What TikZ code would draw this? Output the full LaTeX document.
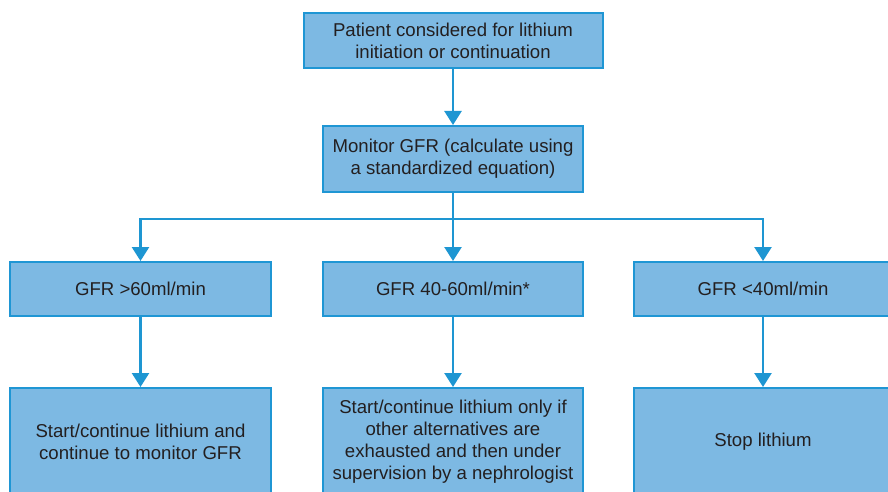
\documentclass[tikz,border=0pt]{standalone}
\usepackage{fontspec}
\setmainfont{Liberation Sans}
\usetikzlibrary{arrows.meta}
\definecolor{boxfill}{HTML}{7DB9E3}
\definecolor{boxline}{HTML}{1F96D4}
\definecolor{arrowcol}{HTML}{1E96D2}
\definecolor{txt}{HTML}{231F20}
\tikzset{
  flowbox/.style={draw=boxline, fill=boxfill, line width=2pt, inner sep=0pt,
    align=center, text=txt, font=\fontsize{18.6}{22}\selectfont},
  flowarrow/.style={draw=arrowcol, line width=2.5pt,
    -{Triangle[width=17pt,length=14pt]}}
}
\begin{document}
\begin{tikzpicture}[x=1pt,y=-1pt]
  \useasboundingbox (0,0) rectangle (888,492);
  \clip (0,0) rectangle (888,492);

  \node[flowbox, minimum width=299pt, minimum height=55pt] (start) at (453,40.5)
    {Patient considered for lithium\\initiation or continuation};
  \node[flowbox, minimum width=260pt, minimum height=66pt] (mon) at (453,159)
    {Monitor GFR (calculate using\\a standardized equation)};

  \node[flowbox, minimum width=261pt, minimum height=54pt] (g1) at (140.5,289)
    {GFR >60ml/min};
  \node[flowbox, minimum width=260pt, minimum height=54pt] (g2) at (453,289)
    {GFR 40-60ml/min*};
  \node[flowbox, minimum width=258pt, minimum height=54pt] (g3) at (763,289)
    {GFR <40ml/min};

  \node[flowbox, minimum width=261pt, minimum height=108pt] (a1) at (140.5,442)
    {Start/continue lithium and\\continue to monitor GFR};
  \node[flowbox, minimum width=260pt, minimum height=108pt] (a2) at (453,442)
    {Start/continue lithium only if\\other alternatives are\\exhausted and then under\\supervision by a nephrologist};
  \node[flowbox, minimum width=258pt, minimum height=108pt] (a3) at (763,442)
    {Stop lithium};

  \coordinate (split) at (453,219);
  \draw[flowarrow] (start.south) -- (mon.north);
  \draw[flowarrow] (mon.south) -- (g2.north);
  \draw[flowarrow] (split) -| (g1.north);
  \draw[flowarrow] (split) -| (g3.north);

  \draw[flowarrow] (g1.south) -- (a1.north);
  \draw[flowarrow] (g2.south) -- (a2.north);
  \draw[flowarrow] (g3.south) -- (a3.north);
\end{tikzpicture}
\end{document}
